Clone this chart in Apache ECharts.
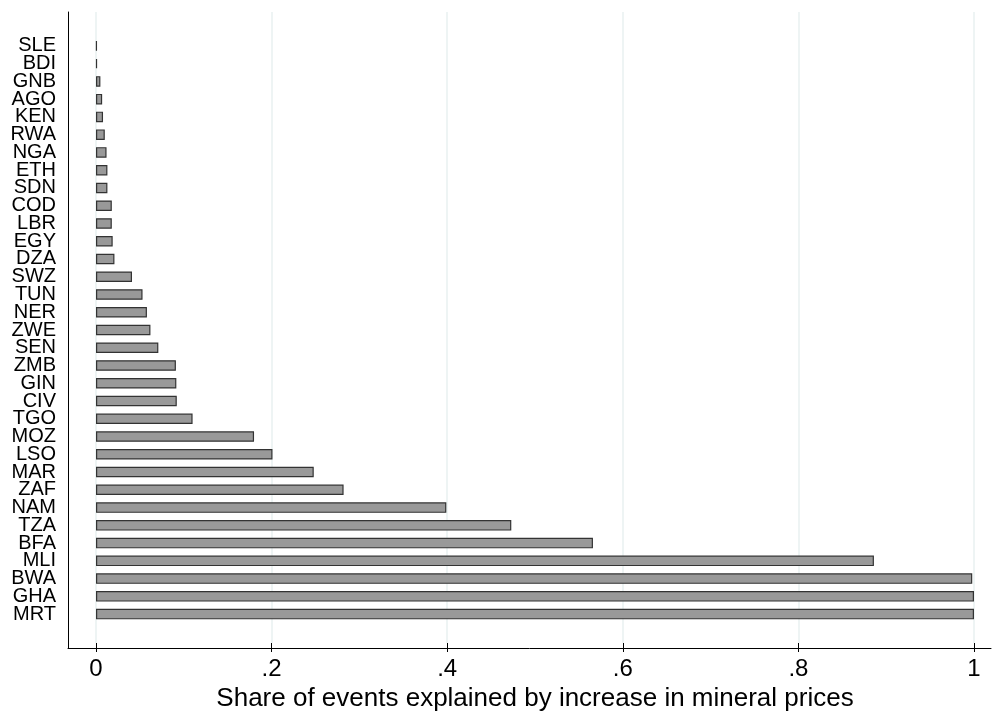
<!DOCTYPE html>
<html>
<head>
<meta charset="utf-8">
<script src="https://cdn.jsdelivr.net/npm/echarts@6/dist/echarts.min.js"></script>
<style>
html,body{margin:0;padding:0;background:#fff;}
#chart{width:992px;height:717px;}
</style>
</head>
<body>
<div id="chart"></div>
<script>
// Categories, top to bottom
const countries = ["SLE","BDI","GNB","AGO","KEN","RWA","NGA","ETH","SDN","COD","LBR","EGY","DZA","SWZ","TUN","NER","ZWE","SEN","ZMB","GIN","CIV","TGO","MOZ","LSO","MAR","ZAF","NAM","TZA","BFA","MLI","BWA","GHA","MRT"];
// Share of events explained by increase in mineral prices
const shares = [0.001,0.0012,0.005,0.007,0.008,0.010,0.012,0.013,0.013,0.018,0.018,0.019,0.021,0.041,0.053,0.058,0.062,0.071,0.091,0.0915,0.092,0.110,0.180,0.201,0.248,0.282,0.399,0.473,0.566,0.886,0.998,1.0,1.0];
const xTickLabels = ["0",".2",".4",".6",".8","1"];
const xTitle = "Share of events explained by increase in mineral prices";

const FONT = '"Liberation Sans", Arial, sans-serif';
const chart = echarts.init(document.getElementById('chart'), null, {renderer:'canvas'});
const option = {
  animation: false,
  backgroundColor: '#ffffff',
  textStyle: {fontFamily: FONT},
  grid: [
    {left: 68, right: 1, top: 12, bottom: 69},
    {left: 96, right: 18, top: 12, bottom: 69},
    {left: 96, right: 18, top: 37, bottom: 94}
  ],
  xAxis: [
    {gridIndex: 0, type: 'value', min: 0, max: 1,
     axisLine: {show: true, lineStyle: {color: '#000', width: 1}},
     axisTick: {show: false}, axisLabel: {show: false}, splitLine: {show: false}},
    {gridIndex: 1, type: 'value', min: 0, max: 1, interval: 0.2,
     axisLine: {show: false},
     axisTick: {show: true, length: 9, lineStyle: {color: '#000', width: 1}},
     axisLabel: {show: true, fontSize: 24, color: '#000', margin: 14, fontFamily: FONT,
       formatter: function (v) { return xTickLabels[Math.round(v / 0.2)]; }},
     splitLine: {show: true, lineStyle: {color: '#e8f0f1', width: 1.5}},
     name: xTitle, nameLocation: 'middle', nameGap: 43,
     nameTextStyle: {fontSize: 26, color: '#000', fontFamily: FONT}},
    {gridIndex: 2, type: 'value', min: 0, max: 1, show: false}
  ],
  yAxis: [
    {gridIndex: 0, type: 'value', min: 0, max: 1,
     axisLine: {show: true, lineStyle: {color: '#000', width: 1}},
     axisTick: {show: false}, axisLabel: {show: false}, splitLine: {show: false}},
    {gridIndex: 1, type: 'value', min: 0, max: 1, show: false},
    {gridIndex: 2, type: 'category', data: countries, inverse: true,
     axisLine: {show: false}, axisTick: {show: false}, splitLine: {show: false},
     axisLabel: {show: true, interval: 0, fontSize: 20, color: '#000', margin: 40, fontFamily: FONT}}
  ],
  series: [
    {type: 'bar', xAxisIndex: 2, yAxisIndex: 2, data: shares, barWidth: 10.5,
     itemStyle: {color: '#999999', borderColor: '#333333', borderWidth: 1.2}}
  ]
};
chart.setOption(option);
</script>
</body>
</html>
